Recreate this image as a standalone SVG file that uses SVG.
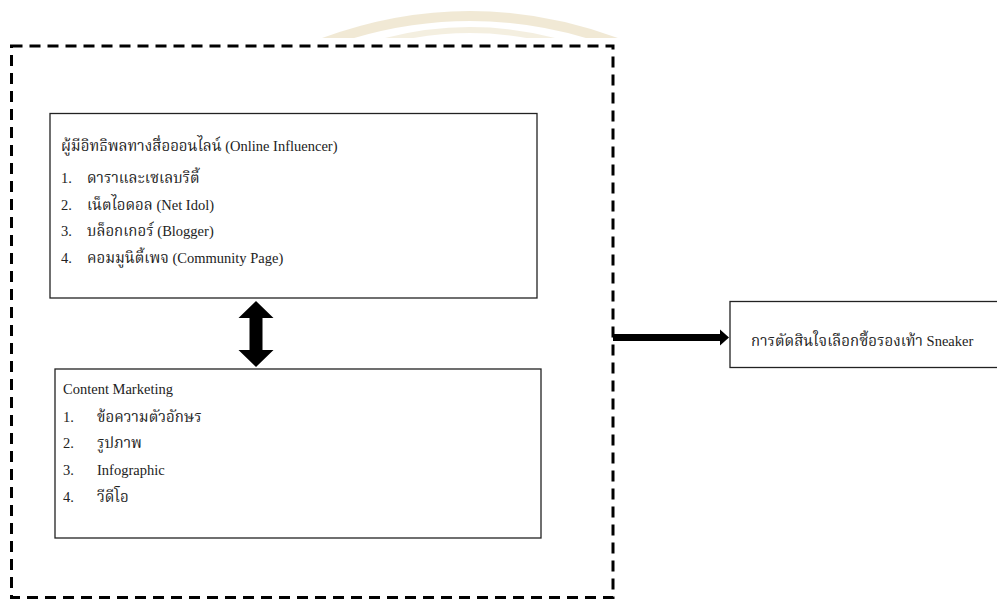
<svg xmlns="http://www.w3.org/2000/svg" width="997" height="601" viewBox="0 0 997 601">
<style>
.box{fill:#fff;stroke:#222;stroke-width:1.3}
.outer{fill:none;stroke:#000;stroke-width:3;stroke-dasharray:11 7}
.t{font-family:"Liberation Serif","Noto Serif Thai","Noto Sans Thai",serif;fill:#222}
.lat{font-size:14.5px}
.th{font-size:15px}
</style>
<defs>
<clipPath id="wm"><rect x="0" y="0" width="997" height="38"/></clipPath>
</defs>
<g id="watermark" clip-path="url(#wm)" fill="none" opacity="0.55">
<path d="M 270 66 Q 470 -34 670 66" stroke="#e6d8b4" stroke-width="10"/>
<path d="M 305 72 Q 470 -12 635 72" stroke="#ece2c8" stroke-width="6"/>
</g>
<g id="group-frame">
<rect class="outer" x="11.5" y="46" width="601.5" height="551.5"/>
</g>
<g id="influencer">
<rect class="box" x="50" y="113.5" width="487" height="184.5"/>
<text class="t" x="61" y="151"><tspan class="th">ผู้มีอิทธิพลทางสื่อออนไลน์</tspan><tspan class="lat"> (Online Influencer)</tspan></text>
<text class="t lat" x="61" y="183">1.</text>
<text class="t th" x="87" y="183">ดาราและเซเลบริตี้</text>
<text class="t lat" x="61" y="210">2.</text>
<text class="t" x="87" y="210"><tspan class="th">เน็ตไอดอล</tspan><tspan class="lat"> (Net Idol)</tspan></text>
<text class="t lat" x="61" y="236">3.</text>
<text class="t" x="87" y="236"><tspan class="th">บล็อกเกอร์</tspan><tspan class="lat"> (Blogger)</tspan></text>
<text class="t lat" x="61" y="263">4.</text>
<text class="t" x="87" y="263"><tspan class="th">คอมมูนิตี้เพจ</tspan><tspan class="lat"> (Community Page)</tspan></text>
</g>
<g id="content-marketing">
<rect class="box" x="55" y="369" width="486" height="169"/>
<text class="t lat" x="63" y="394">Content Marketing</text>
<text class="t lat" x="63" y="422">1.</text>
<text class="t th" x="97" y="422">ข้อความตัวอักษร</text>
<text class="t lat" x="63" y="448">2.</text>
<text class="t th" x="97" y="448">รูปภาพ</text>
<text class="t lat" x="63" y="475">3.</text>
<text class="t lat" x="97" y="475">Infographic</text>
<text class="t lat" x="63" y="502">4.</text>
<text class="t th" x="97" y="502">วีดีโอ</text>
</g>
<g id="decision">
<rect class="box" x="730" y="301.5" width="270" height="66"/>
<text class="t" x="751" y="346"><tspan class="th">การตัดสินใจเลือกซื้อรองเท้า</tspan><tspan class="lat"> Sneaker</tspan></text>
</g>
<g id="connectors">
<path d="M256 301 L273.5 318 L262.5 318 L262.5 350 L273.5 350 L256 367 L238.5 350 L249.5 350 L249.5 318 L238.5 318 Z" fill="#000"/>
<path d="M613 334 L720 334 L720 329.5 L729 337.5 L720 345.5 L720 341 L613 341 Z" fill="#000"/>
</g>
</svg>
